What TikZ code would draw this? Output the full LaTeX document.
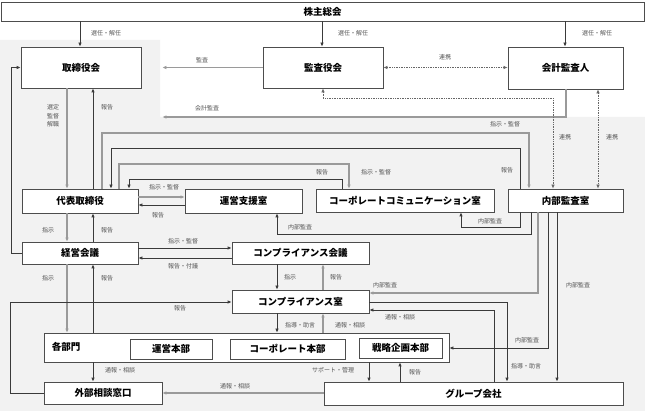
\documentclass[tikz,border=0pt]{standalone}
\usepackage{fontspec}
\setmainfont{Noto Sans CJK JP}
\usetikzlibrary{arrows.meta,calc}
\definecolor{darkc}{HTML}{3A3A3A}
\definecolor{grayc}{HTML}{9A9A9A}
\definecolor{boxc}{HTML}{4D4D4D}
\definecolor{bgc}{HTML}{F2F2F2}
\definecolor{labc}{HTML}{555555}
\definecolor{dotc}{HTML}{666666}
\begin{document}
\begin{tikzpicture}[x=1pt,y=-1pt,
  box/.style={draw=boxc, fill=white, line width=0.8pt, inner sep=0pt, font=\bfseries\fontsize{9.5}{11}\selectfont, text=black},
  lbl/.style={font=\fontsize{6}{8.5}\selectfont, text=labc, inner sep=0pt},
  ln/.style={draw=darkc, line width=0.8pt, -{Latex[length=4pt,width=3.6pt]}},
  gl/.style={draw=grayc, line width=1.2pt, -{Latex[length=4pt,width=3.6pt]}},
  dl/.style={draw=dotc, line width=0.7pt, densely dotted, {Latex[length=4pt,width=3.6pt]}-{Latex[length=4pt,width=3.6pt]}}]
\useasboundingbox (0,0) rectangle (645,411);
\fill[white] (0,0) rectangle (645,411);
\fill[bgc] (0,40) -- (160,40) -- (160,117) -- (645,117) -- (645,411) -- (0,411) -- cycle;

% nodes
\node[box, minimum width=643pt, minimum height=19pt] (kab) at (322.5,11.5) {株主総会};
\node[box, minimum width=120pt, minimum height=41pt] (tori) at (81,67.5) {取締役会};
\node[box, minimum width=120pt, minimum height=41pt] (kansa) at (323,67.5) {監査役会};
\node[box, minimum width=115pt, minimum height=42pt] (kaikei) at (565.5,68) {会計監査人};
\node[box, minimum width=116pt, minimum height=24pt] (daihyo) at (80,201) {代表取締役};
\node[box, minimum width=117pt, minimum height=24pt] (unei) at (243.5,201) {運営支援室};
\node[box, minimum width=178pt, minimum height=23pt] (cc) at (405,200.5) {コーポレートコミュニケーション室};
\node[box, minimum width=115pt, minimum height=23pt] (naibu) at (565.5,200.5) {内部監査室};
\node[box, minimum width=116pt, minimum height=22pt] (keiei) at (80,253) {経営会議};
\node[box, minimum width=137pt, minimum height=22pt] (ckaigi) at (300.5,253) {コンプライアンス会議};
\node[box, minimum width=137pt, minimum height=23pt] (cshitsu) at (300.5,301.5) {コンプライアンス室};
\node[box, minimum width=405pt, minimum height=29pt] (bumon) at (246.5,347.5) {};
\node[box, draw=none, fill=none] (bumonlbl) at (66,347) {各部門};
\node[box, minimum width=82pt, minimum height=20pt] (uneihon) at (171,349) {運営本部};
\node[box, minimum width=115pt, minimum height=20pt] (corphon) at (287.5,349) {コーポレート本部};
\node[box, minimum width=83pt, minimum height=20pt] (senryaku) at (400.5,348) {戦略企画本部};
\node[box, minimum width=118pt, minimum height=22pt] (gaibu) at (103,393) {外部相談窓口};
\node[box, minimum width=299pt, minimum height=23pt] (group) at (473.5,393.5) {グループ会社};

% connectors
\draw[ln] (kab.south -| 80,0) -- (tori.north -| 80,0);
\draw[ln] (kab.south -| 322,0) -- (kansa.north -| 322,0);
\draw[ln] (kab.south -| 565,0) -- (kaikei.north -| 565,0);
\draw[gl, shorten >=21pt] (kansa.west) -- (tori.east);
\draw[gl, line width=1.5pt] (kaikei.south -| 566,0) |- ([xshift=21pt]tori.east |- 0,117);
\draw[dl] (kansa.east) -- (kaikei.west |- kansa.east);
\draw[dl] (kansa.south) -- ++(0,10) -| (naibu.north -| 553,0);
\draw[dl] (kaikei.south -| 598,0) -- (naibu.north -| 598,0);

\draw[gl] (tori.south -| 67,0) -- (daihyo.north -| 67,0);
\draw[ln] (daihyo.north -| 93,0) -- (tori.south -| 93,0);
\draw[ln] (keiei.west) -- ++(-10,0) |- (tori.west);
\draw[gl] (daihyo.south -| 67,0) -- (keiei.north -| 67,0);
\draw[ln] (keiei.north -| 93,0) -- (daihyo.south -| 93,0);
\draw[gl] (keiei.south -| 67,0) -- (bumon.north -| 67,0);
\draw[ln] (bumon.north -| 93,0) -- (keiei.south -| 93,0);

\draw[gl] (daihyo.east |- 0,197) -- (unei.west |- 0,197);
\draw[ln] (unei.west |- 0,205) -- (daihyo.east |- 0,205);
\draw[gl] (daihyo.north -| 102,0) -- (102,133) -| (naibu.north -| 529,0);
\draw[ln] (naibu.north -| 520,0) -- (520,148) -| (daihyo.north -| 111,0);
\draw[gl] (daihyo.north -| 119,0) -- (119,164) -| (cc.north -| 349,0);
\draw[ln] (cc.north -| 342,0) -- (342,179) -| (daihyo.north -| 129,0);
\draw[ln] (naibu.south -| 520,0) -- (520,227) -| (cc.south -| 461,0);
\draw[ln] (naibu.south -| 531,0) -- (531,234) -| (unei.south -| 277,0);
\draw[gl] (naibu.south -| 538,0) |- (cshitsu.east |- 0,293);
\draw[ln] (naibu.south -| 548,0) |- (bumon.east |- 0,348);
\draw[ln] (naibu.south -| 557,0) -- (group.north -| 557,0);

\draw[ln] (keiei.east |- 0,248) -- (ckaigi.west |- 0,248);
\draw[ln] (ckaigi.west |- 0,258) -- (keiei.east |- 0,258);
\draw[ln] (ckaigi.south -| 277,0) -- (cshitsu.north -| 277,0);
\draw[gl] (cshitsu.north -| 323,0) -- (ckaigi.south -| 323,0);
\draw[ln] (gaibu.west) -- (10,393) |- (cshitsu.west |- 0,302);
\draw[ln] (cshitsu.south -| 277,0) -- (bumon.north -| 277,0);
\draw[gl] (bumon.north -| 323,0) -- (cshitsu.south -| 323,0);
\draw[ln] (cshitsu.east |- 0,302) -| (group.north -| 507,0);
\draw[ln] (group.north -| 494,0) |- (cshitsu.east |- 0,310);
\draw[ln] (bumon.south -| 93,0) -- (gaibu.north -| 93,0);
\draw[gl] (group.west |- 0,393) -- (gaibu.east |- 0,393);
\draw[ln] (bumon.south -| 369,0) -- (group.north -| 369,0);
\draw[ln] (group.north -| 400,0) -- (bumon.south -| 400,0);

% labels
\node[lbl] (t1) at (106,33) {選任・解任};
\node[lbl] (t2) at (353,33) {選任・解任};
\node[lbl] (t3) at (597,33) {選任・解任};
\node[lbl] (t4) at (202,60) {監査};
\node[lbl] (t5) at (445,57) {連携};
\node[lbl] (t6) at (207,108) {会計監査};
\node[lbl, align=center] (t7) at (53,116) {選定\\監督\\解職};
\node[lbl] (t8) at (107,107) {報告};
\node[lbl] (t9) at (565,137) {連携};
\node[lbl] (t10) at (612,137) {連携};
\node[lbl] (t11) at (505,124) {指示・監督};
\node[lbl] (t12) at (507,170) {報告};
\node[lbl] (t13) at (322,172) {報告};
\node[lbl] (t14) at (376,172) {指示・監督};
\node[lbl] (t15) at (164,187) {指示・監督};
\node[lbl] (t16) at (158,215) {報告};
\node[lbl] (t17) at (490,221) {内部監査};
\node[lbl] (t18) at (300,227) {内部監査};
\node[lbl] (t19) at (48,230) {指示};
\node[lbl] (t20) at (107,230) {報告};
\node[lbl] (t21) at (183,241) {指示・監督};
\node[lbl] (t22) at (183,266) {報告・付議};
\node[lbl] (t23) at (290,277) {指示};
\node[lbl] (t24) at (336,277) {報告};
\node[lbl] (t25) at (48,278) {指示};
\node[lbl] (t26) at (107,278) {報告};
\node[lbl] (t27) at (385,285) {内部監査};
\node[lbl] (t28) at (578,285) {内部監査};
\node[lbl] (t29) at (180,308) {報告};
\node[lbl] (t30) at (400,317) {通報・相談};
\node[lbl] (t31) at (300,325) {指導・助言};
\node[lbl] (t32) at (350,325) {通報・相談};
\node[lbl] (t33) at (527,340) {内部監査};
\node[lbl] (t34) at (526,366) {指導・助言};
\node[lbl] (t35) at (120,370) {通報・相談};
\node[lbl] (t36) at (333,370) {サポート・管理};
\node[lbl] (t37) at (415,372) {報告};
\node[lbl] (t38) at (235,386) {通報・相談};
\end{tikzpicture}
\end{document}
